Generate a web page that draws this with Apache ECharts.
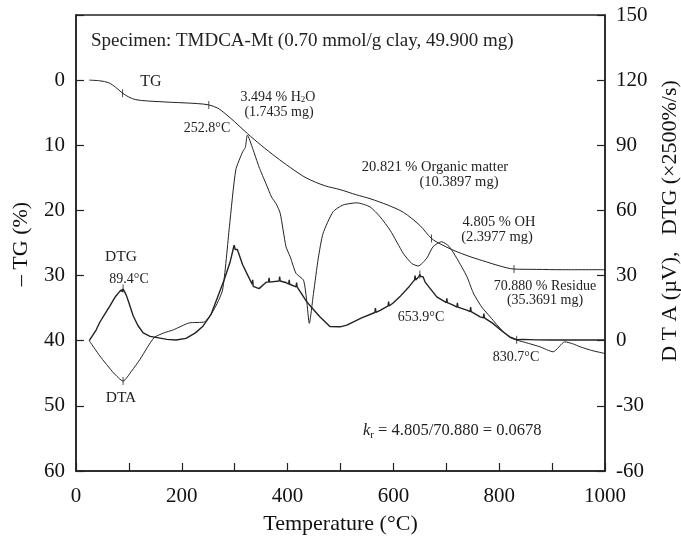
<!DOCTYPE html>
<html>
<head>
<meta charset="utf-8">
<script src="https://cdn.jsdelivr.net/npm/echarts@6/dist/echarts.min.js"></script>
<style>
  html, body { margin: 0; padding: 0; background: #fff; }
  #chart { width: 681px; height: 536px; }
</style>
</head>
<body>
<div id="chart"></div>
<script>
// TG curve (-TG %, left axis)
const tgTemp = [25, 45, 62, 75, 88, 100, 113, 135, 157, 180, 208, 230, 251, 268, 283, 300, 324, 350, 378, 405, 435, 470, 499, 530, 556, 590, 619, 650, 672, 690, 713, 745, 776, 800, 828, 870, 920, 1000];
const tgVal  = [0, 0.1, 0.4, 1.1, 2.0, 2.6, 3.0, 3.2, 3.3, 3.4, 3.5, 3.6, 3.8, 4.3, 5.2, 6.4, 8.2, 10.0, 11.8, 13.4, 15.0, 16.2, 16.8, 17.6, 18.2, 19.2, 20.3, 22.3, 24.3, 25.2, 26.1, 27.1, 27.9, 28.5, 29.0, 29.05, 29.1, 29.1];

// DTG curve (right axis)
const dtgTemp = [25, 38, 45, 55, 63, 75, 82, 86, 87, 89, 92, 95, 100, 108, 117, 127, 140, 159, 172, 189, 208, 225, 240, 255, 266, 280, 291, 297, 299, 301, 305, 315, 325, 333, 334, 335, 346, 360, 364, 365, 366, 384, 385, 386, 398, 402, 403, 404, 416, 417, 418, 436, 450, 461, 480, 499, 512, 540, 565, 566, 567, 575, 590, 591, 592, 600, 612, 630, 640, 641, 642, 648, 650, 652, 656, 660, 682, 700, 701, 702, 713, 720, 721, 722, 740, 745, 746, 747, 764, 770, 771, 772, 788, 805, 820, 833, 845, 870, 900, 950, 1000];
const dtgVal  = [0, 4.9, 8.5, 12.5, 15.6, 20.5, 22.5, 23.5, 22.5, 23.8, 22.5, 21, 17.5, 11.5, 7, 3.6, 2, 1.2, 0.6, 0.3, 1.1, 3.5, 6.7, 12, 19, 28, 36, 42, 44, 42, 42, 35, 30, 26, 28, 25, 24, 27, 27, 29, 27, 27.5, 29.5, 27.5, 26.7, 26, 28, 26, 24.8, 26.8, 24.8, 18, 14, 11, 6.5, 6.4, 7.2, 10.5, 13, 15, 13, 14, 16, 18, 16, 17.5, 20.2, 25, 28, 30, 28, 29.5, 30.5, 29.5, 29.5, 27, 20.2, 17.5, 19.5, 17.5, 16.4, 15.5, 17.5, 15.5, 14, 13.4, 15.5, 13.4, 11, 10.5, 12.5, 10.5, 8, 4.5, 1.8, 0.5, 0.6, 0.4, 0.3, 0.3, 0.3];

// DTA curve (right axis)
const dtaTemp = [25, 45, 71, 89, 105, 121, 135, 148, 165, 184, 214, 243, 260, 277, 290, 302, 315, 320, 324, 334, 346, 359, 370, 378, 386, 397, 405, 416, 430, 436, 441, 449, 458, 467, 486, 505, 531, 556, 575, 594, 619, 635, 647, 663, 675, 691, 705, 720, 739, 751, 767, 783, 795, 808, 820, 833, 855, 877, 902, 924, 940, 953, 975, 1000];
const dtaVal  = [0, -7, -14.8, -18.6, -14, -8.6, -3, 1.5, 3.5, 5, 8.2, 8.7, 14, 23.3, 52.5, 78.6, 87, 89, 94.7, 88.5, 80, 72.4, 66, 63.2, 58.7, 43.3, 38.6, 31, 27.9, 18.7, 8, 21.9, 38, 49.4, 59.4, 62.5, 63.5, 61.6, 57, 50.8, 40.1, 35.5, 34.4, 38, 43.3, 45.6, 43.5, 37.9, 29.5, 22, 15.5, 11, 7.5, 4.1, 1.5, 0.3, -1.2, -2.8, -5.1, -0.5, -1.5, -2.8, -4.5, -5.9];

// small tick marks on the curves
const tgMarks  = [[88, 2.0], [251, 3.8], [672, 24.3], [828, 29.0]];
const dMarks   = [[89, -18.6], [89, 24], [650, 30.5], [833, 0.5]];

const axisFont = 'Liberation Serif';
const zip = (a, b) => a.map((t, i) => [t, b[i]]);

let chart = echarts.init(document.getElementById('chart'));

const txt = (text, x, y, size, align) => ({
    type: 'text',
    x: x, y: y,
    style: {
        text: text,
        font: size + 'px "Liberation Serif"',
        fill: '#222',
        textAlign: align || 'center',
        textVerticalAlign: 'middle'
    }
});

chart.setOption({
    backgroundColor: '#fff',
    animation: false,
    grid: { left: 76, top: 15, right: 76, bottom: 65, show: true, borderColor: '#222', borderWidth: 1.5,
            containLabel: false, outerBoundsMode: 'none' },
    xAxis: {
        type: 'value', min: 0, max: 1000, interval: 100,
        name: 'Temperature (°C)', nameLocation: 'middle', nameGap: 42,
        nameTextStyle: { fontFamily: axisFont, fontSize: 22, color: '#111' },
        axisLine: { onZero: false, lineStyle: { color: '#222', width: 1.5 } },
        axisTick: { inside: true, length: 8, lineStyle: { color: '#222', width: 1.2 } },
        axisLabel: {
            fontFamily: axisFont, fontSize: 21, color: '#111', margin: 15,
            formatter: v => (v % 200 === 0 ? String(v) : '')
        },
        splitLine: { show: false }
    },
    yAxis: [
        {
            type: 'value', inverse: true, min: -10, max: 60, interval: 10, position: 'left',
            axisLine: { show: true, lineStyle: { color: '#222', width: 1.5 } },
            axisTick: { show: true, inside: true, length: 8, lineStyle: { color: '#222', width: 1.2 } },
            axisLabel: {
                fontFamily: axisFont, fontSize: 21, color: '#111', margin: 11,
                formatter: v => (v < 0 ? '' : String(v))
            },
            splitLine: { show: false }
        },
        {
            type: 'value', min: -60, max: 150, interval: 30, position: 'right',
            axisLine: { show: true, lineStyle: { color: '#222', width: 1.5 } },
            axisTick: { show: true, inside: true, length: 8, lineStyle: { color: '#222', width: 1.2 } },
            axisLabel: { fontFamily: axisFont, fontSize: 21, color: '#111', margin: 11 },
            splitLine: { show: false }
        }
    ],
    series: [
        { name: 'TG', type: 'line', yAxisIndex: 0, data: zip(tgTemp, tgVal), showSymbol: false, smooth: 0.3,
          lineStyle: { color: '#222', width: 1 } },
        { name: 'DTA', type: 'line', yAxisIndex: 1, data: zip(dtaTemp, dtaVal), showSymbol: false, smooth: 0.2,
          lineStyle: { color: '#222', width: 1 } },
        { name: 'DTG', type: 'line', yAxisIndex: 1, data: zip(dtgTemp, dtgVal), showSymbol: false,
          lineStyle: { color: '#222', width: 1.4 } },
        { type: 'scatter', yAxisIndex: 0, data: tgMarks, symbol: 'rect', symbolSize: [1, 8], itemStyle: { color: '#222' } },
        { type: 'scatter', yAxisIndex: 1, data: dMarks, symbol: 'rect', symbolSize: [1, 8], itemStyle: { color: '#222' } }
    ],
    graphic: [
        txt('Specimen: TMDCA-Mt (0.70 mmol/g clay, 49.900 mg)', 91, 41, 19, 'left'),
        txt('TG', 151, 82, 16),
        {
            type: 'text', x: 278, y: 97,
            style: {
                text: '3.494 % H{s|2}O', font: '14px "Liberation Serif"', fill: '#222',
                textAlign: 'center', textVerticalAlign: 'middle',
                rich: { s: { fontSize: 9, fontFamily: axisFont, fill: '#222', verticalAlign: 'bottom', padding: [6, 0, 0, 0] } }
            }
        },
        txt('(1.7435 mg)', 279, 112, 14),
        txt('252.8°C', 207, 128, 14),
        txt('20.821 % Organic matter', 435, 167, 14.5),
        txt('(10.3897 mg)', 459, 182, 14.5),
        txt('4.805 % OH', 499, 222, 14.5),
        txt('(2.3977 mg)', 497, 237, 14.5),
        txt('70.880 % Residue', 545, 286, 14),
        txt('(35.3691 mg)', 545, 300, 14),
        txt('653.9°C', 421, 317, 14),
        txt('830.7°C', 516, 357, 14),
        txt('DTG', 121, 257, 15.5),
        txt('89.4°C', 129, 279, 14),
        txt('DTA', 121, 398, 15.5),
        {
            type: 'text', x: 363, y: 431,
            style: {
                text: '{i|k}{s|r} = 4.805/70.880 = 0.0678', font: '16.5px "Liberation Serif"', fill: '#222',
                textAlign: 'left', textVerticalAlign: 'middle',
                rich: {
                    i: { fontStyle: 'italic', fontSize: 16.5, fontFamily: axisFont, fill: '#222' },
                    s: { fontSize: 11, fontFamily: axisFont, fill: '#222', padding: [8, 0, 0, 0] }
                }
            }
        },
        {
            type: 'text', x: 21, y: 244, rotation: Math.PI / 2,
            style: { text: '– TG (%)', font: '22px "Liberation Serif"', fill: '#111', textAlign: 'center', textVerticalAlign: 'middle' }
        },
        {
            type: 'text', x: 670, y: 221, rotation: Math.PI / 2,
            style: { text: 'D T A (µV),   DTG (×2500%/s)', font: '22px "Liberation Serif"', fill: '#111', textAlign: 'center', textVerticalAlign: 'middle' }
        }
    ]
});
window.onresize = chart.resize;
</script>
</body>
</html>
